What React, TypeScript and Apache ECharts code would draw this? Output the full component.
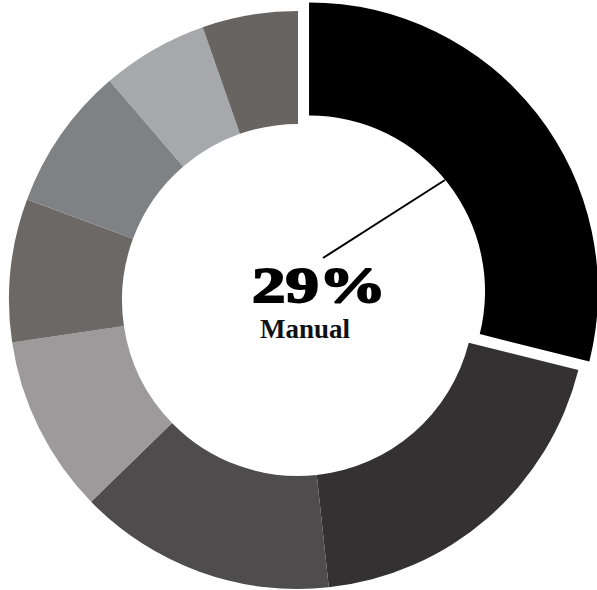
import React, { useEffect, useRef } from "react";
import * as echarts from "echarts";

const categories = ["Manual", "Cat B", "Cat C", "Cat D", "Cat E", "Cat F", "Cat G", "Cat H"];
const values = [28.9, 19.4, 14.4, 9.95, 8.0, 8.05, 5.95, 5.35];
const colors = ["#000000", "#333132", "#4e4c4d", "#9c9a9b", "#6b6866", "#808184", "#a7a8ab", "#686462"];
const centerValue = "29%";
const centerLabel = "Manual";

export default function App() {
  const ref = useRef<HTMLDivElement>(null);
  useEffect(() => {
    if (!ref.current) return;
    const chart = echarts.init(ref.current, undefined, { renderer: "svg" });
    chart.setOption({
      animation: false,
      backgroundColor: "#ffffff",
      series: [
        {
          type: "pie",
          center: [298, 300],
          radius: [176, 289],
          startAngle: 90,
          clockwise: true,
          selectedMode: "single",
          selectedOffset: 14,
          avoidLabelOverlap: false,
          label: { show: false },
          labelLine: { show: false },
          emphasis: { disabled: true },
          itemStyle: { borderWidth: 0 },
          data: categories.map((name, i) => ({
            name,
            value: values[i],
            selected: i === 0,
            itemStyle: { color: colors[i] },
          })),
        },
      ],
      graphic: [
        {
          type: "line",
          shape: { x1: 323, y1: 258, x2: 445, y2: 180 },
          style: { stroke: "#000000", lineWidth: 2 },
          z: 10,
        },
        {
          type: "group",
          x: 319,
          y: 285,
          scaleX: 1.34,
          scaleY: 1,
          children: [
            {
              type: "text",
              x: 0,
              y: 0,
              style: {
                text: centerValue,
                fontFamily: "Liberation Serif",
                fontWeight: "bold",
                fontSize: 50,
                fill: "#000000",
                stroke: "#000000",
                lineWidth: 1.8,
                align: "center",
                verticalAlign: "middle",
              },
            },
          ],
          z: 10,
        },
        {
          type: "text",
          x: 305,
          y: 329,
          style: {
            text: centerLabel,
            fontFamily: "Liberation Serif",
            fontWeight: "bold",
            fontSize: 27,
            fill: "#111111",
            align: "center",
            verticalAlign: "middle",
          },
          z: 10,
        },
      ],
    });
    return () => chart.dispose();
  }, []);
  return (
    <div
      ref={ref}
      style={{ position: "absolute", left: 0, top: 0, width: 597, height: 590 }}
    />
  );
}
